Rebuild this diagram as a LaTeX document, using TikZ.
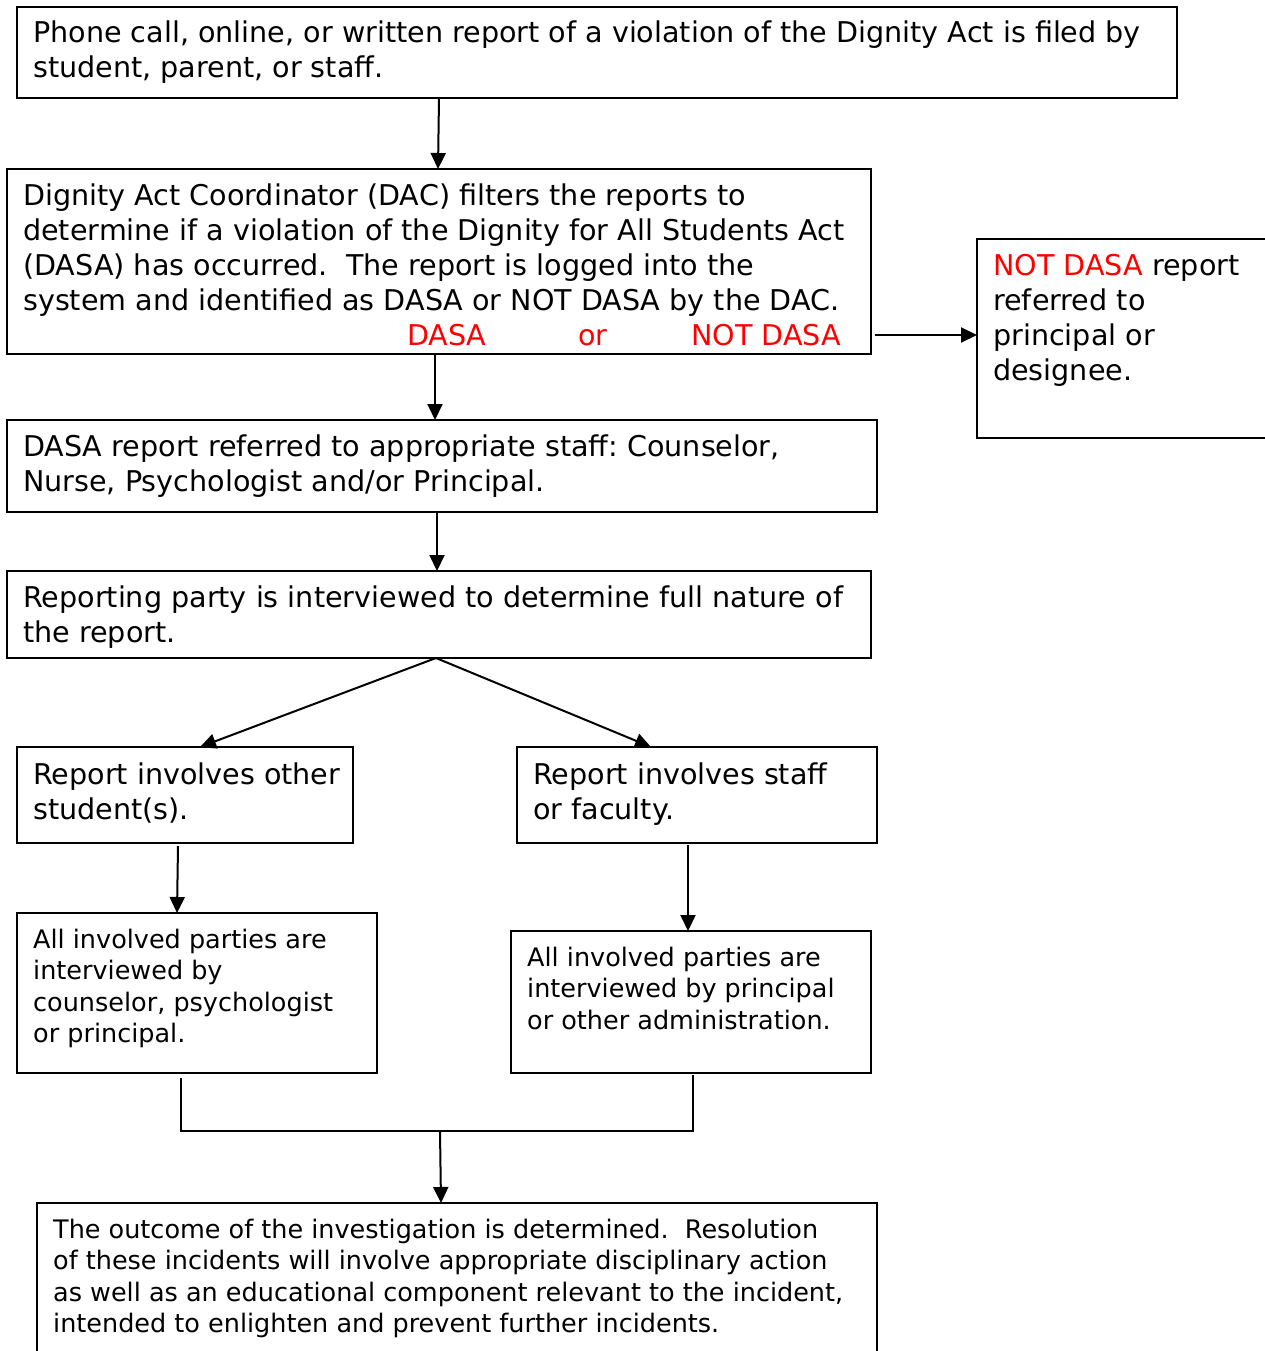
\documentclass[tikz,border=0pt]{standalone}
\usepackage{fontspec}
\setmainfont{DejaVu Sans}
\usetikzlibrary{arrows.meta}
\definecolor{dasared}{RGB}{255,0,0}
\frenchspacing
\begin{document}
\begin{tikzpicture}[x=1pt,y=-1pt,
  box/.style={draw=black, line width=2pt, anchor=north west, inner sep=0pt, outer sep=0pt},
  big/.style={anchor=north west, inner sep=0pt, align=left, font=\fontsize{28.6}{35}\selectfont},
  small/.style={anchor=north west, inner sep=0pt, align=left, font=\fontsize{25.5}{31.3}\selectfont},
  redlbl/.style={anchor=base west, inner sep=0pt, text=dasared, font=\fontsize{28.6}{35}\selectfont},
  arr/.style={line width=2pt, -{Triangle[length=16pt,width=15pt]}},
  ln/.style={line width=2pt}]
\useasboundingbox[fill=white] (0,0) rectangle (1264,1351);

% boxes
\node[box, minimum width=1160pt, minimum height=91pt] (b1) at (17,7) {};
\node[box, minimum width=864pt, minimum height=185pt] (b2) at (7,169) {};
\node[box, minimum width=320pt, minimum height=199pt] (bR) at (977,239) {};
\node[box, minimum width=870pt, minimum height=92pt] (b3) at (7,420) {};
\node[box, minimum width=864pt, minimum height=87pt] (b4) at (7,571) {};
\node[box, minimum width=336pt, minimum height=96pt] (b5) at (17,747) {};
\node[box, minimum width=360pt, minimum height=96pt] (b6) at (517,747) {};
\node[box, minimum width=360pt, minimum height=160pt] (b7) at (17,913) {};
\node[box, minimum width=360pt, minimum height=142pt] (b8) at (511,931) {};
\node[box, minimum width=840pt, minimum height=180pt] (b9) at (37,1203) {};

% texts
\node[big] (t1) at (33,20.5) {Phone call, online, or written report of a violation of the Dignity Act is filed by\\student, parent, or staff.};
\node[big] (t2) at (23,183.5) {Dignity Act Coordinator (DAC) filters the reports to\\determine if a violation of the Dignity for All Students Act\\(DASA) has occurred.\ \ The report is logged into the\\system and identified as DASA or NOT DASA by the DAC.};
\node[redlbl] (r1) at (407,345) {DASA};
\node[redlbl] (r2) at (578,345) {or};
\node[redlbl] (r3) at (691,345) {NOT DASA};
\node[big] (tR) at (993,254.5) {\textcolor{dasared}{NOT DASA} report\\referred to\\principal or\\designee.};
\node[big] (t3) at (23,434.5) {DASA report referred to appropriate staff: Counselor,\\Nurse, Psychologist and/or Principal.};
\node[big] (t4) at (23,585.5) {Reporting party is interviewed to determine full nature of\\the report.};
\node[big] (t5) at (33,762.5) {Report involves other\\student(s).};
\node[big] (t6) at (533,762.5) {Report involves staff\\or faculty.};
\node[small] (t7) at (33,929) {All involved parties are\\interviewed by\\counselor, psychologist\\or principal.};
\node[small] (t8) at (527,947) {All involved parties are\\interviewed by principal\\or other administration.};
\node[small] (t9) at (53,1219) {The outcome of the investigation is determined.\ \ Resolution\\of these incidents will involve appropriate disciplinary action\\as well as an educational component relevant to the incident,\\intended to enlighten and prevent further incidents.};

% connectors
\draw[arr] ([xshift=422pt]b1.south west) -- ([xshift=431pt]b2.north west);
\draw[arr] ([xshift=428pt]b2.south west) -- ([xshift=428pt]b3.north west);
\draw[arr] ([shift={(4pt,19pt)}]b2.south east) -- ([yshift=-96pt]bR.north west);
\draw[arr] ([xshift=430pt]b3.south west) -- ([xshift=430pt]b4.north west);
\coordinate (apex) at ([xshift=429pt]b4.south west);
\draw[arr] (apex) -- ([xshift=183pt]b5.north west);
\draw[arr] (apex) -- ([xshift=134pt]b6.north west);
\draw[arr] ([shift={(161pt,-3pt)}]b5.south west) -- ([xshift=160pt]b7.north west);
\draw[arr] ([shift={(171pt,-2pt)}]b6.south west) -- ([xshift=177pt]b8.north west);
\coordinate (join) at (440,1131);
\draw[ln] ([shift={(164pt,-5pt)}]b7.south west) |- (join) -| ([shift={(182pt,-2pt)}]b8.south west);
\draw[arr] (join) -- ([xshift=404pt]b9.north west);
\end{tikzpicture}
\end{document}
